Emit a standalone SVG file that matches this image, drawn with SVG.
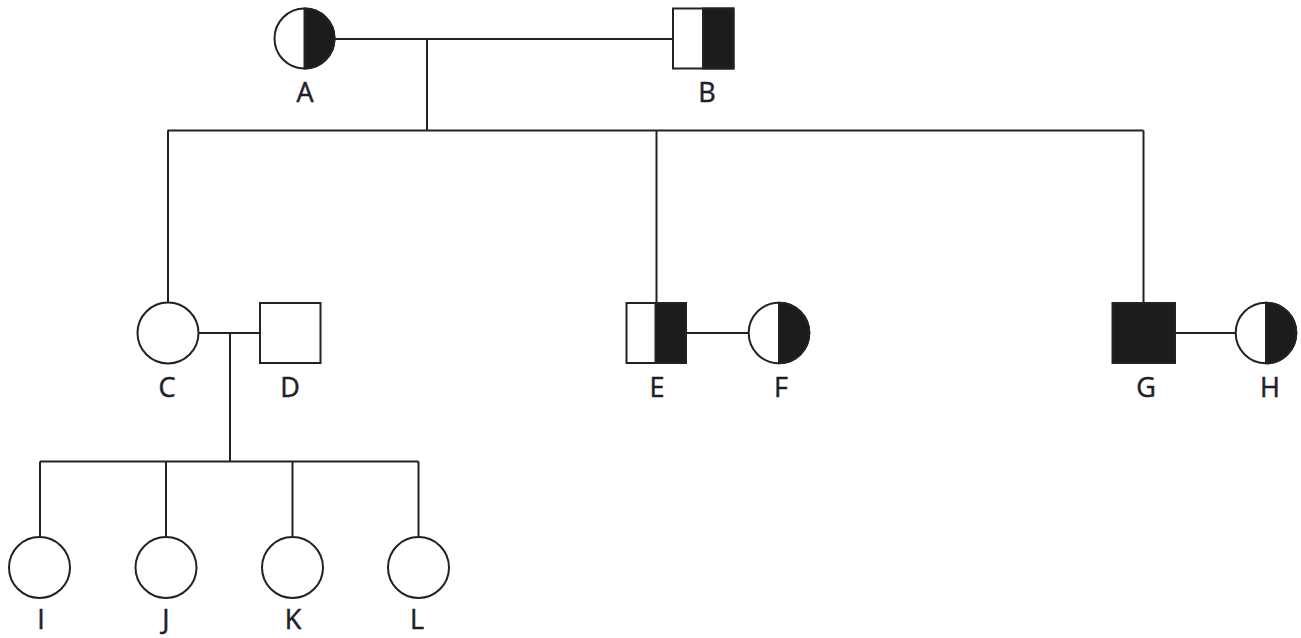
<svg xmlns="http://www.w3.org/2000/svg" width="1301" height="638" viewBox="0 0 1301 638">
<style>
.s{fill:#fff;stroke:#222;stroke-width:2}
.f{fill:#1c1c1c;stroke:#222;stroke-width:2}
.l{fill:none;stroke:#222;stroke-width:2}
.t{font-family:"Open Sans","Liberation Sans",sans-serif;font-size:27px;fill:#1e1e2a;stroke:#1e1e2a;stroke-width:0.5;text-anchor:middle}
</style>
<rect width="1301" height="638" fill="#fff"/>
<g id="connectors" class="l">
<path d="M335 39H673"/>
<path d="M427 39V130.5"/>
<path d="M167.5 130.5H1143.5"/>
<path d="M168 130.5V303"/>
<path d="M656.5 130.5V303"/>
<path d="M1143.5 130.5V303"/>
<path d="M199 333H260"/>
<path d="M230 333V461.5"/>
<path d="M686 333H749"/>
<path d="M1175 333H1236"/>
<path d="M40 461.5H418.5"/>
<path d="M40 461.5V537.5"/>
<path d="M166 461.5V537.5"/>
<path d="M292.5 461.5V537.5"/>
<path d="M418.5 461.5V537.5"/>
</g>
<g id="A">
<circle class="s" cx="304.5" cy="38.5" r="30"/>
<path class="f" d="M304.5 8.5A30 30 0 0 1 304.5 68.5Z"/>
<text class="t" x="305" y="102">A</text>
</g>
<g id="B">
<rect class="s" x="673" y="8.5" width="60.5" height="60"/>
<rect class="f" x="703" y="8.5" width="30.5" height="60"/>
<text class="t" x="707" y="102">B</text>
</g>
<g id="C">
<circle class="s" cx="168" cy="333" r="30.5"/>
<text class="t" x="167" y="397">C</text>
</g>
<g id="D">
<rect class="s" x="260" y="303" width="60.5" height="60"/>
<text class="t" x="290" y="397">D</text>
</g>
<g id="E">
<rect class="s" x="626.5" y="303" width="59.5" height="60"/>
<rect class="f" x="655.5" y="303" width="30.5" height="60"/>
<text class="t" x="657" y="397">E</text>
</g>
<g id="F">
<circle class="s" cx="779" cy="333" r="30.3"/>
<path class="f" d="M779 302.7A30.3 30.3 0 0 1 779 363.3Z"/>
<text class="t" x="781" y="397">F</text>
</g>
<g id="G">
<rect class="f" x="1112.5" y="303" width="62.5" height="60"/>
<text class="t" x="1146" y="397">G</text>
</g>
<g id="H">
<circle class="s" cx="1266" cy="333" r="30.3"/>
<path class="f" d="M1266 302.7A30.3 30.3 0 0 1 1266 363.3Z"/>
<text class="t" x="1270" y="397">H</text>
</g>
<g id="I">
<circle class="s" cx="39.5" cy="567.5" r="30.5"/>
<text class="t" x="41" y="629">I</text>
</g>
<g id="J">
<circle class="s" cx="166" cy="567.5" r="30.5"/>
<text class="t" x="166" y="629">J</text>
</g>
<g id="K">
<circle class="s" cx="292.5" cy="567.5" r="30.5"/>
<text class="t" x="293" y="629">K</text>
</g>
<g id="L">
<circle class="s" cx="418.5" cy="567.5" r="30.5"/>
<text class="t" x="417" y="629">L</text>
</g>
</svg>
